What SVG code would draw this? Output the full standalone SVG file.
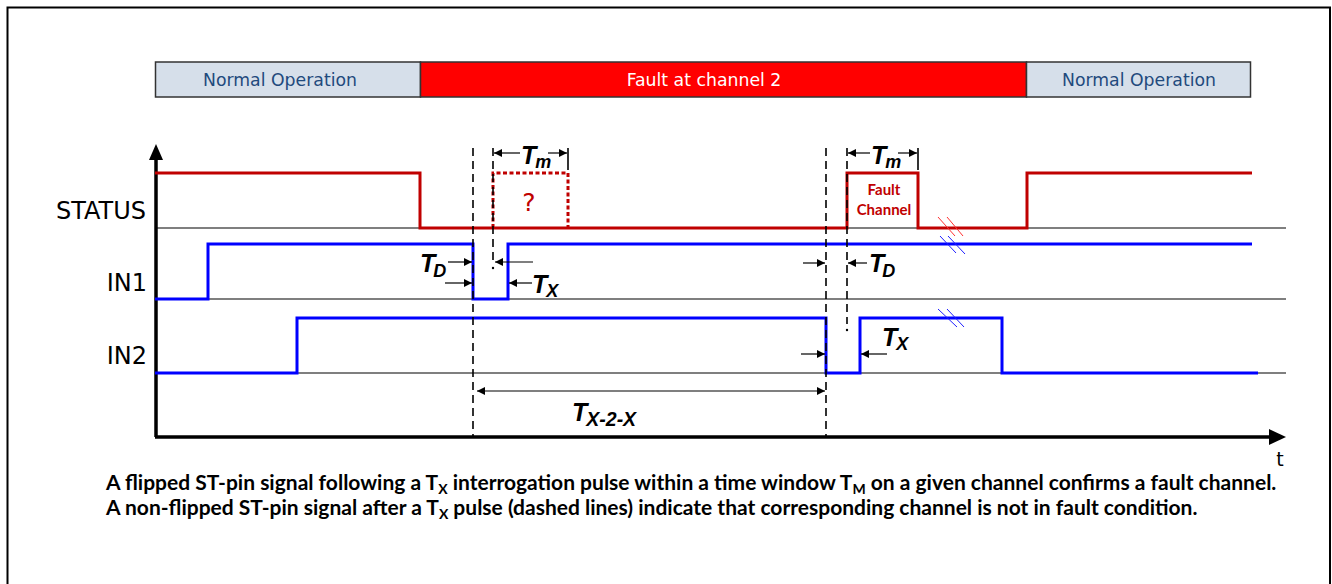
<svg xmlns="http://www.w3.org/2000/svg" width="1332" height="584" viewBox="0 0 1332 584">
<style>
.frame{fill:none;stroke:#000;stroke-width:2}
.nbox{fill:#d6dfea;stroke:#333;stroke-width:1.5}
.fbox{fill:#ff0000;stroke:#333;stroke-width:1.5}
.ntxt{font-family:"DejaVu Sans",Verdana,sans-serif;font-size:17.3px;fill:#1f4a7d;text-anchor:middle}
.ftxt{font-family:"DejaVu Sans",Verdana,sans-serif;font-size:17.3px;fill:#fff;text-anchor:middle}
.lbl{font-family:"DejaVu Sans",Verdana,sans-serif;font-size:24px;fill:#000;text-anchor:end}
.base{stroke:#000;stroke-width:1.2;fill:none}
.baseg{stroke:#555;stroke-width:1.5;fill:none}
.red{stroke:#c00000;stroke-width:3;fill:none}
.blue{stroke:#0000ff;stroke-width:3;fill:none}
.dot{stroke:#c00000;stroke-width:3;fill:none;stroke-dasharray:4 2.5}
.dash{stroke:#000;stroke-width:1.6;fill:none;stroke-dasharray:8 5}
.arr{stroke:#000;stroke-width:1.2;fill:none;marker-end:url(#ah)}
.arr2{stroke:#555;stroke-width:1.5;fill:none;marker-start:url(#ah);marker-end:url(#ah)}
.tk{stroke:#000;stroke-width:1.6;fill:none}
.hr{stroke:#ff3030;stroke-width:1}
.hb{stroke:#2020ff;stroke-width:1}
.tl{font-family:"Liberation Sans",Arial,sans-serif;font-weight:bold;font-style:italic;font-size:25px;fill:#000}
.sub{font-size:18px}
.cap{font-family:Lato,"Open Sans",sans-serif;font-weight:bold;font-size:21px;fill:#000}
.fc{font-family:Lato,"Open Sans",sans-serif;font-weight:bold;font-size:15px;fill:#c00000;text-anchor:middle}
</style>
<defs>
<marker id="ah" viewBox="0 0 10 10" refX="10" refY="5" markerWidth="10" markerHeight="8" markerUnits="userSpaceOnUse" orient="auto-start-reverse">
<path d="M0,0 L10,5 L0,10 z" fill="#000"/>
</marker>
</defs>
<rect width="1332" height="584" fill="#fff"/>
<path class="frame" d="M7.5,584 V7.5 H1330 V584"/>

<g id="phase-bar">
<g id="normal-1"><rect class="nbox" x="155.5" y="62" width="265" height="35"/><text class="ntxt" x="280" y="86">Normal Operation</text></g>
<g id="fault"><rect class="fbox" x="420.5" y="62" width="606" height="35"/><text class="ftxt" x="704" y="86">Fault at channel 2</text></g>
<g id="normal-2"><rect class="nbox" x="1026.5" y="62" width="224" height="35"/><text class="ntxt" x="1139" y="86">Normal Operation</text></g>
</g>

<g id="axes">
<path class="base" d="M155,228 H1286"/>
<path class="baseg" d="M155,299 H1286"/>
<path class="base" d="M155,373 H1286"/>
<path d="M156,437 V158" stroke="#000" stroke-width="3.5"/>
<polygon points="156,144 149,160 163,160" fill="#000"/>
<path d="M155,437 H1270" stroke="#000" stroke-width="3.5"/>
<polygon points="1286,437 1269,429 1269,445" fill="#000"/>
<text x="1280" y="466" style="font-family:'DejaVu Sans',Verdana,sans-serif;font-size:19px" text-anchor="middle">t</text>
</g>

<g id="labels">
<text class="lbl" x="146" y="219">STATUS</text>
<text class="lbl" x="147" y="291">IN1</text>
<text class="lbl" x="147" y="364">IN2</text>
</g>

<g id="status">
<path class="red" d="M155,173 H420 V228 H847 V173 H918 V228 H1027 V173 H1252"/>
<path class="dot" d="M493,228 V173 H568 V228"/>
<text x="529" y="211" text-anchor="middle" style="font-family:'DejaVu Sans',Verdana,sans-serif;font-size:25px;fill:#c00000">?</text>
<text class="fc" x="884" y="195">Fault</text>
<text class="fc" x="884" y="215">Channel</text>
</g>

<g id="in1">
<path class="blue" d="M155,299 H208 V244 H473 V299 H508 V244 H1252"/>
</g>

<g id="in2">
<path class="blue" d="M155,373 H297 V318 H826 V373 H860 V318 H1002 V373 H1258"/>
</g>

<g id="breaks">
<path class="hr" d="M938,217 L955,236 M947,217 L963,236"/>
<path class="hb" d="M940,236 L956,253 M948,236 L965,254"/>
<path class="hb" d="M938,309 L957,327 M947,309 L964,327"/>
</g>

<g id="connectors">
<path class="dash" d="M473,148 V437"/>
<path class="dash" d="M493,148 V262"/>
<circle cx="493" cy="268" r="1.2" fill="#000"/>
<path class="dash" d="M826,148 V437"/>
<path class="dash" d="M847,148 V324"/>
<circle cx="847" cy="330" r="1.2" fill="#000"/>
<path class="tk" d="M568,148 V170"/>
<path class="tk" d="M918,148 V170"/>
<path class="arr" d="M520,153 H494"/>
<path class="arr" d="M548,153 H567"/>
<path class="arr" d="M870,153 H848"/>
<path class="arr" d="M898,153 H917"/>
<path class="arr" d="M448,262 H472"/>
<path class="arr" d="M445,283 H472"/>
<path class="arr" d="M533,262 H495"/>
<path class="arr" d="M532,283 H509"/>
<path class="arr" d="M803,263 H825"/>
<path class="arr" d="M867,263 H848"/>
<path class="arr" d="M801,354 H825"/>
<path class="arr" d="M887,354 H861"/>
<path class="arr2" d="M477,391 H825"/>
</g>

<g id="timing-labels">
<text class="tl" x="521" y="164">T<tspan class="sub" dy="4" dx="-1">m</tspan></text>
<text class="tl" x="871" y="164">T<tspan class="sub" dy="4" dx="-1">m</tspan></text>
<text class="tl" x="420" y="272">T<tspan class="sub" dy="5" dx="-2">D</tspan></text>
<text class="tl" x="869" y="272">T<tspan class="sub" dy="5" dx="-2">D</tspan></text>
<text class="tl" x="532" y="293">T<tspan class="sub" dy="4" dx="-1">X</tspan></text>
<text class="tl" x="882" y="346">T<tspan class="sub" dy="4" dx="-1">X</tspan></text>
<text class="tl" x="572" y="421">T<tspan dy="5" dx="-1" font-size="19.5">X-2-X</tspan></text>
</g>

<g id="caption">
<text class="cap" x="106" y="490">A flipped ST-pin signal following a T<tspan font-size="14" dy="4">X</tspan><tspan dy="-4"> interrogation pulse within a time window T</tspan><tspan font-size="14" dy="4">M</tspan><tspan dy="-4"> on a given channel confirms a fault channel.</tspan></text>
<text class="cap" x="106" y="515">A non-flipped ST-pin signal after a T<tspan font-size="14" dy="4">X</tspan><tspan dy="-4"> pulse (dashed lines) indicate that corresponding channel is not in fault condition.</tspan></text>
</g>
</svg>
